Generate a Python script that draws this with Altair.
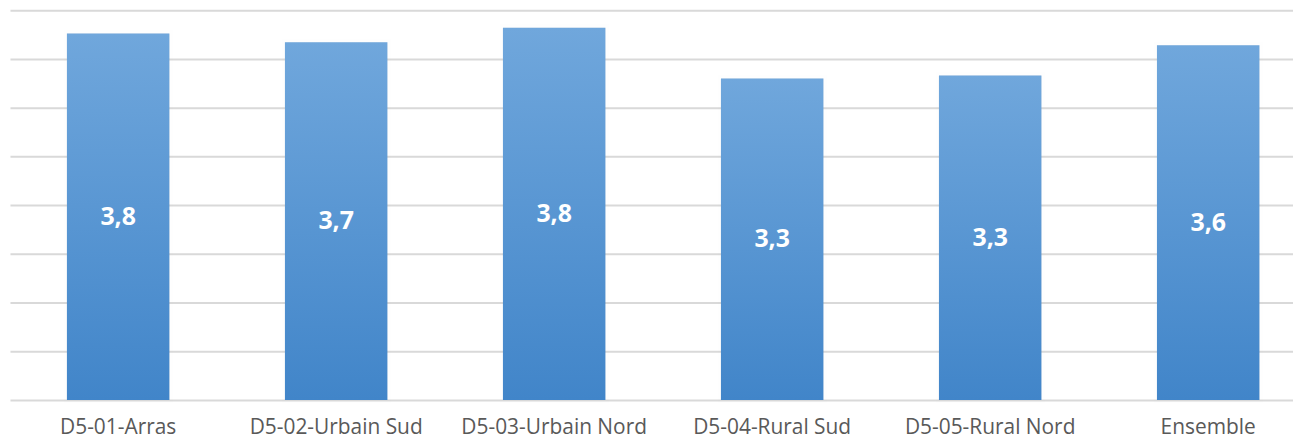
import altair as alt
import pandas as pd

categories = ["D5-01-Arras", "D5-02-Urbain Sud", "D5-03-Urbain Nord",
              "D5-04-Rural Sud", "D5-05-Rural Nord", "Ensemble"]
values = [3.76, 3.67, 3.82, 3.30, 3.33, 3.64]
labels = ["3,8", "3,7", "3,8", "3,3", "3,3", "3,6"]

df = pd.DataFrame({"cat": categories, "val": values, "lab": labels})

x = alt.X("cat:N", sort=categories, title=None,
          scale=alt.Scale(paddingInner=0.53, paddingOuter=0.2076, align=0.629),
          axis=alt.Axis(labelAngle=0, labelFontSize=21, labelFont="Open Sans",
                        labelColor="#595959", labelPadding=17, labelLimit=0,
                        domain=False, ticks=False, grid=False))
y = alt.Y("val:Q", title=None,
          scale=alt.Scale(domain=[0, 4.0], nice=False),
          axis=alt.Axis(values=[0, 0.5, 1, 1.5, 2, 2.5, 3, 3.5, 4], labels=False,
                        ticks=False, domain=False, grid=True,
                        gridColor="#d9d9d9", gridWidth=2))

base = alt.Chart(df)

shadow = base.mark_bar(color="#000000", opacity=0.06, stroke="#000000",
                       strokeWidth=6, strokeOpacity=0.06).encode(x=x, y=y)

bars = base.mark_bar(
    color=alt.Gradient(
        gradient="linear", x1=0, x2=0, y1=0, y2=1,
        stops=[alt.GradientStop(color="#70a7dc", offset=0),
               alt.GradientStop(color="#4185c9", offset=1)])
).encode(x=x, y=y)

text = base.transform_calculate(mid="datum.val / 2").mark_text(
    color="white", fontSize=25, fontWeight="bold", font="Open Sans",
    baseline="middle", align="center"
).encode(x=alt.X("cat:N", sort=categories), y=alt.Y("mid:Q"), text="lab:N")

chart = alt.layer(shadow, bars, text).properties(
    width=1290, height=392,
    autosize=alt.AutoSizeParams(type="none"),
    padding={"left": 2, "top": 1, "right": 0, "bottom": 40}
).configure_view(stroke=None)

chart.save("out.html", embed_options={"renderer": "svg", "actions": False})
